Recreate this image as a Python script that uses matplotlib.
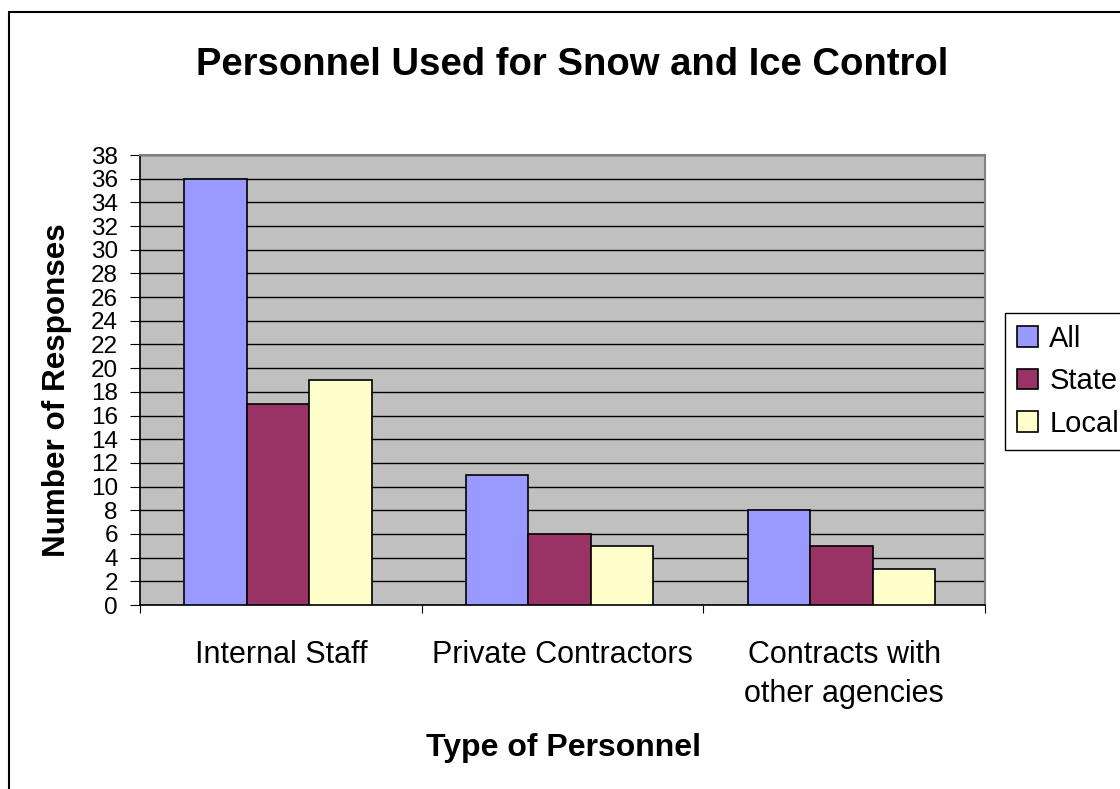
import matplotlib
matplotlib.use("Agg")
import matplotlib.pyplot as plt
import numpy as np
from matplotlib.patches import Rectangle

categories = ["Internal Staff", "Private Contractors", "Contracts with\nother agencies"]
series_names = ["All", "State", "Local"]
all_vals = [36, 11, 8]
state_vals = [17, 6, 5]
local_vals = [19, 5, 3]
colors = ["#9999FF", "#993366", "#FFFFCC"]
yticks = list(range(0, 39, 2))

plt.rcParams['font.family'] = ['Liberation Sans', 'DejaVu Sans']

W, H = 1120, 789
fig = plt.figure(figsize=(W / 100, H / 100), dpi=100)
fig.patches.append(Rectangle((9 / W, -0.1), 1.2, 1 - 12 / H + 0.1, transform=fig.transFigure,
                             fill=False, edgecolor="black", linewidth=1.5, zorder=0))

ax = fig.add_axes([140 / W, 1 - 605 / H, (985 - 140) / W, (605 - 155) / H])
ax.set_facecolor("#C0C0C0")

x = np.arange(len(categories))
bw = 0.222
for i, (vals, name, c) in enumerate(zip([all_vals, state_vals, local_vals], series_names, colors)):
    ax.bar(x + (i - 1) * bw - 0.01, vals, width=bw, color=c, edgecolor="black", linewidth=1.2,
           label=name, zorder=3)

ax.set_ylim(0, 38)
ax.set_xlim(-0.5, 2.5)
ax.set_yticks(yticks)
ax.set_yticklabels([str(t) for t in yticks], fontsize=17.5)
ax.yaxis.grid(True, color="black", linewidth=1.0, zorder=1)
ax.set_axisbelow(True)

ax.set_xticks([-0.5, 0.5, 1.5, 2.5])
ax.set_xticklabels([])
ax.set_xticks(x, minor=True)
ax.set_xticklabels(categories, minor=True, fontsize=22, linespacing=1.4, va="top")
ax.tick_params(axis="x", which="minor", length=0, pad=25)
ax.tick_params(axis="x", which="major", length=6, color="black", direction="out")
ax.tick_params(axis="y", length=7, pad=9, direction="out")

for s in ["top", "right"]:
    ax.spines[s].set_color("#808080")
    ax.spines[s].set_linewidth(1.5)
for s in ["left", "bottom"]:
    ax.spines[s].set_color("black")
    ax.spines[s].set_linewidth(1.2)

fig.text(572 / W, 1 - 75 / H, "Personnel Used for Snow and Ice Control", ha="center", va="baseline",
         fontsize=27.5, fontweight="bold")
fig.text(57 / W, 1 - 390 / H, "Number of Responses", ha="center", va="center", rotation=90,
         fontsize=22.6, fontweight="bold")
fig.text(563 / W, 1 - 748 / H, "Type of Personnel", ha="center", va="center",
         fontsize=23, fontweight="bold")

leg = ax.legend(loc="upper left", bbox_to_anchor=(1005 / W, 1 - 313 / H), bbox_transform=fig.transFigure,
                fontsize=21, frameon=True, fancybox=False, edgecolor="black", framealpha=1,
                handlelength=0.72, handleheight=0.7, handletextpad=0.4, borderpad=0.4,
                labelspacing=0.5, borderaxespad=0)
leg.get_frame().set_linewidth(1.0)

fig.savefig("out.png", dpi=100)
